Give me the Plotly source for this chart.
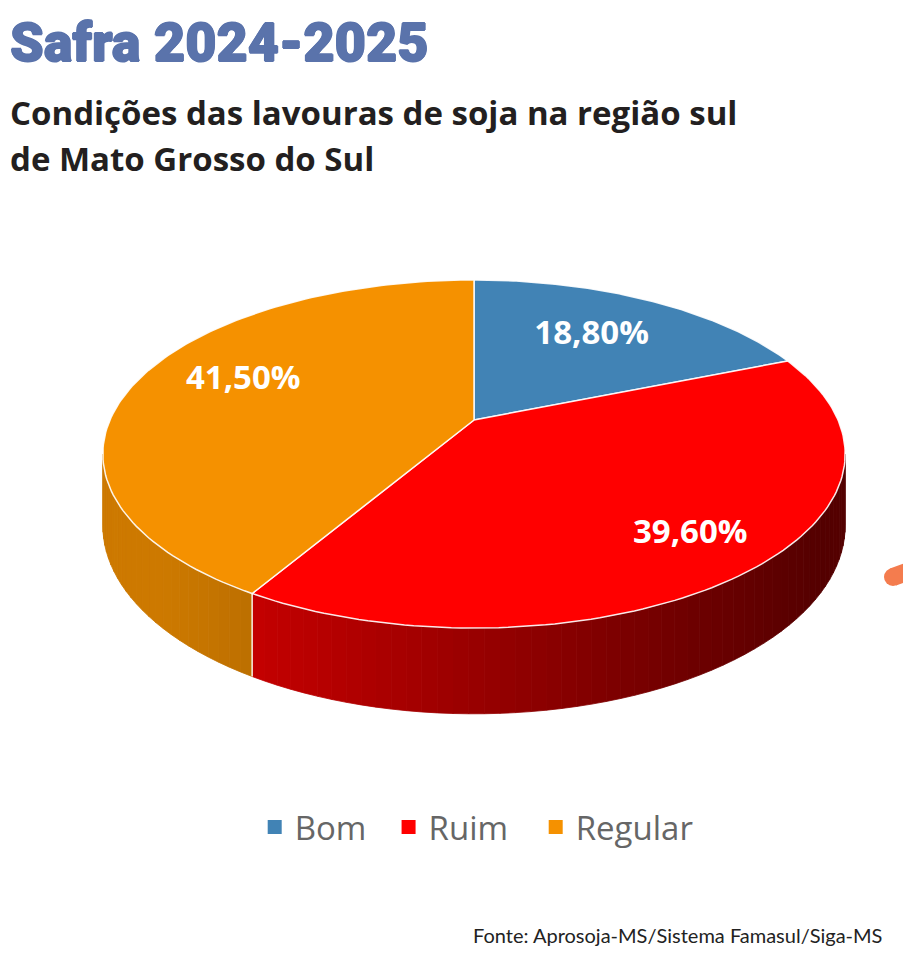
import numpy as np
import plotly.graph_objects as go

# dados da safra (% das lavouras)
categories = ["Bom", "Ruim", "Regular"]
values = [18.8, 39.6, 41.5]
colors = ["#4183b5", "#ff0000", "#f59100"]

# onde cada rótulo fica dentro da fatia (fração do raio + ajuste vertical)
label_r = [0.64, 0.8, 0.68]
label_dy = [0.024, 0.0, 0.06]

OFF = 8                      # margem do <body> da página
FW, FH = 911 - OFF, 957 - OFF
cx, cy = 474, 420            # centro da pizza (px da página)
sx, sy = 364, 167.4          # px por unidade
persp = 0.1955               # perspectiva (fundo menor que a frente)
thick = 0.412                # espessura do disco


def pxx(px):
    return (px - OFF) / FW


def pxy(py):
    return 1 - (py - OFF) / FH


def proj(phi, r=1.0, drop=0.0):
    u = r * np.sin(phi)
    v = r * np.cos(phi)
    w = 1 + persp * v
    return u / w, (v - drop) / w


def shade(hexcol, f):
    h = hexcol.lstrip("#")
    rgb = [int(h[i:i + 2], 16) for i in (0, 2, 4)]
    return "rgb({},{},{})".format(*[int(c * f) for c in rgb])


total = sum(values)
edges = np.concatenate([[0], np.cumsum(values)]) / total * 2 * np.pi

fig = go.Figure()

# lateral do disco (só a parte da frente aparece)
vis0 = np.arccos(-persp)
vis1 = 2 * np.pi - vis0
step = np.radians(2)
for i, cat in enumerate(categories):
    a0 = max(edges[i], vis0)
    a1 = min(edges[i + 1], vis1)
    if a1 <= a0:
        continue
    n = max(1, int(np.ceil((a1 - a0) / step)))
    ts = np.linspace(a0, a1, n + 1)
    for t0, t1 in zip(ts[:-1], ts[1:]):
        tt = np.linspace(t0, t1, 4)
        xt, yt = proj(tt)
        xb, yb = proj(tt[::-1], drop=thick)
        um = np.sin((t0 + t1) / 2) / (1 + persp * np.cos((t0 + t1) / 2))
        f = float(np.clip(0.6 - 0.28 * um, 0.33, 0.84))
        col = shade(colors[i], f)
        fig.add_trace(go.Scatter(
            x=np.concatenate([xt, xb, xt[:1]]),
            y=np.concatenate([yt, yb, yt[:1]]),
            mode="lines", fill="toself", fillcolor=col,
            line=dict(color=col, width=0.8),
            hoverinfo="skip", showlegend=False))

# linhas brancas verticais nas divisões visíveis da lateral
for e in edges[1:-1]:
    if vis0 <= e <= vis1:
        x0, y0 = proj(e)
        x1, y1 = proj(e, drop=thick)
        fig.add_trace(go.Scatter(
            x=[x0, x1], y=[y0, y1], mode="lines",
            line=dict(color="rgba(255,255,255,0.9)", width=1.5),
            hoverinfo="skip", showlegend=False))

# tampa
for i, cat in enumerate(categories):
    tt = np.linspace(edges[i], edges[i + 1], 120)
    xa, ya = proj(tt)
    fig.add_trace(go.Scatter(
        x=np.concatenate([[0], xa, [0]]),
        y=np.concatenate([[0], ya, [0]]),
        mode="lines", fill="toself", fillcolor=colors[i],
        line=dict(color="rgba(255,255,255,0.9)", width=1.5),
        hoverinfo="skip", showlegend=False, name=cat))

# rótulos
for i, cat in enumerate(categories):
    mid = (edges[i] + edges[i + 1]) / 2
    lx, ly = proj(mid, r=label_r[i])
    txt = "{:.2f}%".format(values[i]).replace(".", ",")
    fig.add_trace(go.Scatter(
        x=[lx], y=[ly + label_dy[i]], mode="text", text=[txt],
        textfont=dict(family="Open Sans", size=33, color="white", weight="bold"),
        hoverinfo="skip", showlegend=False))

# legenda (espaços fixos entre os itens)
pads = ["\u00a0\u00a0", "\u00a0\u00a0\u2009", ""]
for i, cat in enumerate(categories):
    fig.add_trace(go.Scatter(
        x=[None], y=[None], mode="markers", name=cat + pads[i],
        marker=dict(symbol="square", size=14, color=colors[i])))

blue = "#5a73ab"
fig.add_annotation(
    x=pxx(8), y=pxy(43), xref="paper", yref="paper",
    xanchor="left", yanchor="middle", showarrow=False,
    text="Safra 2024-2025",
    font=dict(family="Roboto", size=54, color=blue, weight=900,
              shadow="0.8px 0 0 {0}, -0.8px 0 0 {0}, 0 0.8px 0 {0}, 0 -0.8px 0 {0}".format(blue)))
fig.add_annotation(
    x=pxx(8), y=pxy(113), xref="paper", yref="paper",
    xanchor="left", yanchor="middle", showarrow=False,
    text="Condições das lavouras de soja na região sul",
    font=dict(family="Open Sans", size=33, color="#231f20", weight="bold"))
fig.add_annotation(
    x=pxx(8), y=pxy(158), xref="paper", yref="paper",
    xanchor="left", yanchor="middle", showarrow=False,
    text="de Mato Grosso do Sul",
    font=dict(family="Open Sans", size=33, color="#231f20", weight="bold"))
fig.add_annotation(
    x=pxx(884), y=pxy(935), xref="paper", yref="paper",
    xanchor="right", yanchor="middle", showarrow=False,
    text="Fonte: Aprosoja-MS/Sistema Famasul/Siga-MS",
    font=dict(family="Lato", size=20, color="#222222"))

# marca de caneta no canto direito
fig.add_shape(type="line", xref="paper", yref="paper",
              x0=pxx(893), y0=pxy(577), x1=pxx(915), y1=pxy(569),
              line=dict(color="#f47c4e", width=18))
fig.add_shape(type="circle", xref="paper", yref="paper",
              x0=pxx(884), y0=pxy(568), x1=pxx(902), y1=pxy(586),
              fillcolor="#f47c4e", line=dict(width=0))

fig.update_layout(
    width=FW, height=FH,
    margin=dict(l=0, r=0, t=0, b=0),
    paper_bgcolor="white", plot_bgcolor="white",
    xaxis=dict(range=[(OFF - cx) / sx, (911 - cx) / sx], visible=False, fixedrange=True),
    yaxis=dict(range=[(cy - 957) / sy, (cy - OFF) / sy], visible=False, fixedrange=True),
    legend=dict(orientation="h", x=pxx(476.7), xanchor="center",
                y=pxy(827), yanchor="middle",
                font=dict(family="Open Sans", size=33, color="#666666"),
                bgcolor="rgba(0,0,0,0)"),
)

fig.write_html("out.html")
